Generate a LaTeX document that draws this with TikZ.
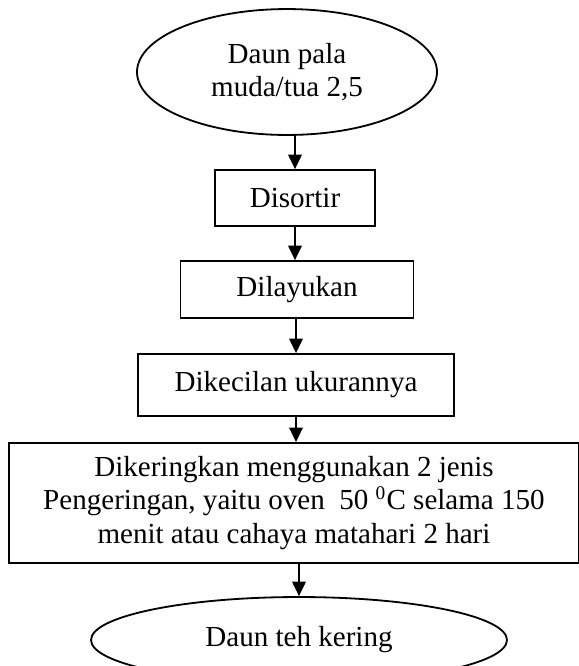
\documentclass[tikz,border=0pt]{standalone}
\usepackage{fontspec}
\setmainfont{Liberation Serif}
\usetikzlibrary{shapes.geometric, arrows.meta, positioning}

\begin{document}
\begin{tikzpicture}[x=0.413pt,y=-0.413pt,
  every node/.style={font=\fontsize{12}{13.8}\selectfont, align=center, inner sep=0pt},
  kotak/.style={draw, line width=0.75pt, rectangle},
  elips/.style={draw, line width=0.75pt, ellipse},
  panah/.style={-{Triangle[width=5.6pt,length=6pt]}, line width=0.8pt}]
\useasboundingbox (0,0) rectangle (579,666);

\node[elips, minimum width=123.9pt, minimum height=52pt] (daun) at (287,72) {Daun pala\\muda/tua 2,5};
\node[kotak, minimum width=66.1pt, minimum height=23.1pt] (sortir) at (295,198) {Disortir};
\node[kotak, minimum width=96.2pt, minimum height=23.5pt] (layu) at (297,289.5) {Dilayukan};
\node[kotak, minimum width=130.5pt, minimum height=25.6pt] (kecil) at (296,385) {Dikecilan ukurannya};
\node[kotak, minimum width=235.4pt, minimum height=49.6pt] (kering) at (294,503)
  {Dikeringkan menggunakan 2 jenis\\Pengeringan, yaitu oven~ 50 \textsuperscript{0}C selama 150\\menit atau cahaya matahari 2 hari};
\node[elips, minimum width=171.8pt, minimum height=35.5pt] (teh) at (299,640) {Daun teh kering};

% alur proses
\draw[panah] (sortir.north |- daun.south) -- (sortir.north);
\draw[panah] (sortir.south) -- (sortir.south |- layu.north);
\draw[panah] (kecil.north |- layu.south) -- (kecil.north);
\draw[panah] (kecil.south) -- (kecil.south |- kering.north);
\draw[panah] (teh.north |- kering.south) -- (teh.north);
\end{tikzpicture}
\end{document}
